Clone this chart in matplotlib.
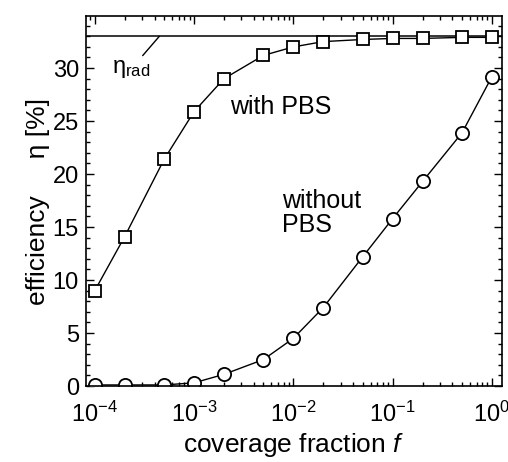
import numpy as np
import matplotlib
matplotlib.use("Agg")
import matplotlib.pyplot as plt
from matplotlib.ticker import MultipleLocator, LogLocator, NullFormatter

plt.rcParams['font.family'] = ['Liberation Sans', 'DejaVu Sans']
plt.rcParams['mathtext.fontset'] = 'custom'
plt.rcParams['mathtext.rm'] = 'Liberation Sans'
plt.rcParams['mathtext.it'] = 'Liberation Sans:italic'

# coverage fraction f
f = [1e-4, 2e-4, 5e-4, 1e-3, 2e-3, 5e-3, 1e-2, 2e-2, 5e-2, 1e-1, 2e-1, 5e-1, 1.0]
# efficiency with PBS [%]
eta_pbs = [9.0, 14.1, 21.4, 25.9, 29.0, 31.2, 32.0, 32.5, 32.7, 32.8, 32.8, 32.9, 32.9]
# efficiency without PBS [%]
eta_nopbs = [0.1, 0.1, 0.1, 0.3, 1.1, 2.5, 4.5, 7.4, 12.2, 15.8, 19.3, 23.9, 29.2]
eta_rad = 33.0

fig = plt.figure(figsize=(5.08, 4.62), dpi=100)
ax = fig.add_axes([0.169, 0.1645, 0.819, 0.8005])

ax.axhline(eta_rad, color='black', lw=1.1)
ax.plot(f, eta_pbs, color='black', lw=1.0, marker='s', markersize=9,
        markerfacecolor='white', markeredgecolor='black', markeredgewidth=1.3)
ax.plot(f, eta_nopbs, color='black', lw=1.0, marker='o', markersize=9.5,
        markerfacecolor='white', markeredgecolor='black', markeredgewidth=1.3)

ax.set_xscale('log')
ax.set_xlim(10 ** -4.09, 10 ** 0.1)
ax.set_ylim(0, 34.9)
ax.xaxis.set_major_locator(LogLocator(base=10, numticks=10))
ax.xaxis.set_minor_locator(LogLocator(base=10, subs=np.arange(2, 10), numticks=20))
ax.xaxis.set_minor_formatter(NullFormatter())
ax.yaxis.set_major_locator(MultipleLocator(5))
ax.yaxis.set_minor_locator(MultipleLocator(1))
ax.tick_params(which='both', direction='in', top=True, right=True, labelsize=17)
ax.tick_params(which='major', length=6, width=1.0)
ax.tick_params(which='minor', length=3, width=1.0)
ax.tick_params(axis='x', pad=11)
ax.tick_params(axis='y', pad=5)
for s in ax.spines.values():
    s.set_linewidth(1.2)

ax.set_xlabel('coverage fraction $\\mathit{f}$', fontsize=19, labelpad=3)
ax.set_ylabel('efficiency     \u03b7 [%]', fontsize=19, labelpad=2)

ax.text(10 ** -2.64, 26.3, 'with PBS', fontsize=18, va='center')
ax.text(10 ** -2.11, 16.3, 'without\nPBS', fontsize=18, va='center', linespacing=1.0)
ax.annotate('\u03b7$_{\\rm rad}$', xy=(10 ** -3.35, eta_rad), xytext=(10 ** -3.83, 29.5),
            fontsize=17, arrowprops=dict(arrowstyle='-', color='black', lw=1.0,
                                         shrinkA=0, shrinkB=0))

fig.savefig('out.png', dpi=100)
